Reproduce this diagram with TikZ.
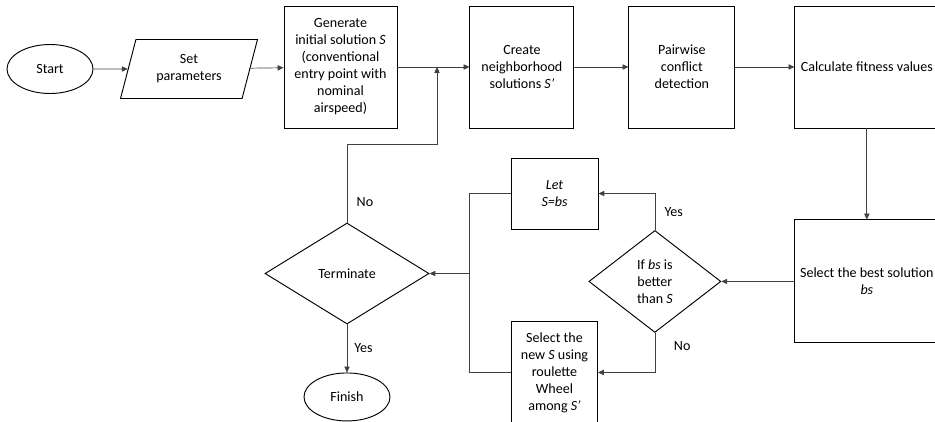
\documentclass[tikz,border=0pt]{standalone}
\usepackage{fontspec}
\setmainfont{Carlito}
\usetikzlibrary{arrows.meta,positioning,shapes.geometric}

\begin{document}
\begin{tikzpicture}
[x=0.03cm, y=-0.03cm, font=\fontsize{12}{14.5}\selectfont,
% STYLES
every node/.style={align=center, inner sep=2pt},
% The box style is used to draw the process steps
box/.style={rectangle, draw, line width=0.8pt, minimum height=3.66cm},
% The terminal style is used to draw the start and the end
terminal/.style={ellipse, draw, line width=0.8pt, minimum width=2.58cm, minimum height=1.47cm},
% The decision style is used to draw the tests
decision/.style={diamond, draw, line width=0.8pt, inner sep=0pt},
% The line style is used to draw the connectors, link adds the tip
line/.style={draw=black!75, line width=0.6pt},
link/.style={line, -{Triangle[length=5pt,width=4.5pt]}}]

\useasboundingbox (0,0) rectangle (935,421);

% Draw the main row
\node [terminal] (start) at (50,69) {Start};
\node [trapezium, trapezium left angle=74, trapezium right angle=106, trapezium stretches=true, draw, line width=0.8pt, minimum width=4.14cm, minimum height=1.77cm, inner xsep=0pt] (param) at (189,69) {Set\\parameters};
\node [box, minimum width=3.39cm] (init) at (340.5,67) {Generate\\initial solution \textit{S}\\(conventional\\entry point with\\nominal\\airspeed)};
\node [box, minimum width=3.12cm, right=2.16cm of init] (neighbor) {Create\\neighborhood\\solutions \textit{S’}};
\node [box, minimum width=3.18cm, right=1.62cm of neighbor] (conflict) {Pairwise\\conflict\\detection};
\node [box, minimum width=4.32cm, right=1.77cm of conflict] (fitness) {Calculate fitness values};

% Draw the loop
\node [box, minimum width=4.32cm, minimum height=3.69cm, below=2.73cm of fitness] (best) {Select the best solution\\\textit{bs}};
\node [decision, minimum width=3.96cm, minimum height=3.06cm, left=2.19cm of best] (better) {If \textit{bs} is\\better\\than \textit{S}};
\node [box, minimum width=2.61cm, minimum height=2.13cm] (accept) at (554.5,193.5) {\textit{Let}\\\textit{S=bs}};
\node [box, minimum width=2.58cm, minimum height=3.03cm, below=2.76cm of accept] (roulette) {Select the\\new \textit{S} using\\roulette\\Wheel\\among \textit{S’}};
\node [decision, minimum width=4.92cm, minimum height=3.03cm] (terminate) at (347,273.5) {Terminate};
\node [terminal, minimum height=1.44cm, below=1.44cm of terminate] (finish) {Finish};

\coordinate (merge) at (469,273.5);
\coordinate (bend) at (437,144);
\coordinate (rejoin) at (437,67);

% Draw the links between steps
\path[every edge/.style={link}]
(start) edge (param)
(param) edge (init)
(init) edge (neighbor)
(neighbor) edge (conflict)
(conflict) edge (fitness)
(fitness) edge (best)
(best) edge (better)
(merge) edge (terminate)
(terminate) edge node[right=4pt] {Yes} (finish);

\draw[link] (better.north) |- node[pos=0.25, right=6pt] {Yes} (accept);
\draw[link] (better.south) |- node[pos=0.17, right=14pt] {No} (roulette);
\draw[line] (accept) -| (merge);
\draw[line] (roulette) -| (merge);
\draw[link] (terminate) |- node[pos=0.13, right=6pt] {No} (bend) -- (rejoin);

\end{tikzpicture}
\end{document}
